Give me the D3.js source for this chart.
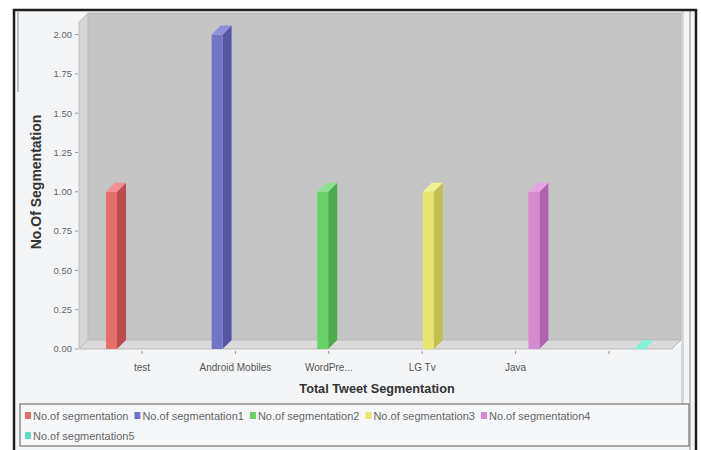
<!DOCTYPE html>
<html>
<head>
<meta charset="utf-8">
<script src="https://cdn.jsdelivr.net/npm/d3@7"></script>
<style>
  html, body { margin: 0; padding: 0; background: #ffffff; }
  svg { display: block; font-family: "Liberation Sans", Arial, sans-serif; }
</style>
</head>
<body>
<svg id="chart" width="701" height="450"></svg>
<script>
// Categories on the horizontal axis
const categories = ["test", "Android Mobiles", "WordPre...", "LG Tv", "Java", ""];
// One series per category; each series has a single value in its own category
const seriesNames = ["No.of segmentation", "No.of segmentation1", "No.of segmentation2",
                     "No.of segmentation3", "No.of segmentation4", "No.of segmentation5"];
const seriesValues = [1, 2, 1, 1, 1, 0];
const seriesCategory = ["test", "Android Mobiles", "WordPre...", "LG Tv", "Java", ""];
const yTicks = [0, 0.25, 0.5, 0.75, 1, 1.25, 1.5, 1.75, 2];

// Face colours per series: front, side, top
const palette = [
  { front: "#e86e6e", side: "#bc4c4c", top: "#f29090" },
  { front: "#7474c6", side: "#5656a6", top: "#9090da" },
  { front: "#6ad06a", side: "#4caa4c", top: "#8ee08e" },
  { front: "#e6e670", side: "#c0c050", top: "#f2f292" },
  { front: "#d688d0", side: "#b064b0", top: "#e8a4e2" },
  { front: "#62dcc4", side: "#48b8a0", top: "#84f0d8" }
];

const svg = d3.select("#chart");

// Plot geometry (front plane) and 3D depth offset
const plot = { left: 79, right: 672, top: 22, bottom: 349 };
const depth = { dx: 9, dy: 9 };

// Frame and panel background
svg.append("rect").attr("x", 14).attr("y", 10).attr("width", 682).attr("height", 450)
  .attr("fill", "#f4f5f6");
svg.append("rect").attr("x", 17).attr("y", 12).attr("width", 2).attr("height", 80)
  .attr("fill", "#b9c2ca");
svg.append("line").attr("x1", 690).attr("x2", 690).attr("y1", 11).attr("y2", 450)
  .attr("stroke", "#a8acb0").attr("stroke-width", 1.5);
svg.append("rect").attr("x", 681).attr("y", 11).attr("width", 3).attr("height", 395)
  .attr("fill", "#d4d8dc");

// Scales
const x0 = d3.scaleBand().domain(categories).range([plot.left, plot.right])
  .paddingOuter(0.175).paddingInner(0);
const x1 = d3.scaleBand().domain(seriesNames).range([-36, 36]).paddingInner(0.1);
const y = d3.scaleLinear().domain([0, 2.08]).range([plot.bottom, plot.top]);

// Walls: back, left side, floor
const g = svg.append("g");
const pts = a => a.map(p => p.join(",")).join(" ");
const bx0 = plot.left + depth.dx, bx1 = plot.right + depth.dx;
const by0 = plot.top - depth.dy, by1 = plot.bottom - depth.dy;
g.append("polygon")
  .attr("points", pts([[bx0, by0], [bx1, by0], [bx1, by1], [bx0, by1]]))
  .attr("fill", "#c4c4c4").attr("stroke", "#b8b8b8").attr("stroke-width", 1);
g.append("polygon")
  .attr("points", pts([[plot.left, plot.top], [bx0, by0], [bx0, by1], [plot.left, plot.bottom]]))
  .attr("fill", "#d6d6d6").attr("stroke", "#bdbdbd").attr("stroke-width", 1);
g.append("polygon")
  .attr("points", pts([[plot.left, plot.bottom], [bx0, by1], [bx1, by1], [plot.right, plot.bottom]]))
  .attr("fill", "#dadada").attr("stroke", "#bdbdbd").attr("stroke-width", 1);

// Y axis ticks and labels
const yAxis = svg.append("g");
yTicks.forEach(t => {
  yAxis.append("line").attr("x1", plot.left - 4).attr("x2", plot.left - 1)
    .attr("y1", y(t)).attr("y2", y(t)).attr("stroke", "#999");
  yAxis.append("text").attr("x", plot.left - 7).attr("y", y(t)).attr("dy", "0.35em")
    .attr("text-anchor", "end").attr("font-size", 9.5).attr("fill", "#666")
    .text(d3.format(".2f")(t));
});

// Category axis ticks and labels
const xAxis = svg.append("g");
categories.forEach(c => {
  const cx = x0(c) + x0.bandwidth() / 2;
  xAxis.append("line").attr("x1", cx).attr("x2", cx)
    .attr("y1", plot.bottom + 2).attr("y2", plot.bottom + 5).attr("stroke", "#999");
  xAxis.append("text").attr("x", cx).attr("y", 371).attr("text-anchor", "middle")
    .attr("font-size", 10).attr("fill", "#555").text(c);
});

// Axis titles
svg.append("text").attr("transform", "translate(41,182) rotate(-90)")
  .attr("text-anchor", "middle").attr("font-size", 14).attr("font-weight", "bold")
  .attr("fill", "#333").text("No.Of Segmentation");
svg.append("text").attr("x", 377).attr("y", 393).attr("text-anchor", "middle")
  .attr("font-size", 12.7).attr("font-weight", "bold").attr("fill", "#333")
  .text("Total Tweet Segmentation");

// 3D bars
const bars = svg.append("g");
seriesNames.forEach((s, i) => {
  const v = seriesValues[i];
  const c = palette[i];
  const xl = x0(seriesCategory[i]) + x0.bandwidth() / 2 + x1(s);
  const w = x1.bandwidth();
  const yt = y(v), yb = y(0);
  const { dx, dy } = depth;
  if (yb - yt > 0) {
    bars.append("polygon")
      .attr("points", pts([[xl + w, yt], [xl + w + dx, yt - dy], [xl + w + dx, yb - dy], [xl + w, yb]]))
      .attr("fill", c.side);
    bars.append("rect").attr("x", xl).attr("y", yt).attr("width", w).attr("height", yb - yt)
      .attr("fill", c.front);
  }
  bars.append("polygon")
    .attr("points", pts([[xl, yt], [xl + dx, yt - dy], [xl + w + dx, yt - dy], [xl + w, yt]]))
    .attr("fill", c.top);
});

// Legend, items flow left to right and wrap inside the box
const lg = svg.append("g");
lg.append("rect").attr("x", 20).attr("y", 404).attr("width", 669).attr("height", 42)
  .attr("fill", "#f6f7f8").attr("stroke", "#8c8c8c").attr("stroke-width", 1.5);
let lx = 25, ly = 416;
seriesNames.forEach((s, i) => {
  const item = lg.append("g");
  const txt = item.append("text").attr("font-size", 11).attr("fill", "#666").text(s);
  const tw = txt.node().getComputedTextLength();
  if (lx + 8 + tw > 660) { lx = 25; ly += 20; }
  item.append("rect").attr("x", lx).attr("y", ly - 4).attr("width", 6).attr("height", 7)
    .attr("fill", palette[i].front);
  txt.attr("x", lx + 8).attr("y", ly).attr("dy", "0.35em");
  lx += 8 + tw + 6;
});

// Outer frame
svg.append("path").attr("d", "M14,452 L14,10 L696,10 L696,452")
  .attr("fill", "none").attr("stroke", "#1e1e1e").attr("stroke-width", 2.5);
</script>
</body>
</html>
